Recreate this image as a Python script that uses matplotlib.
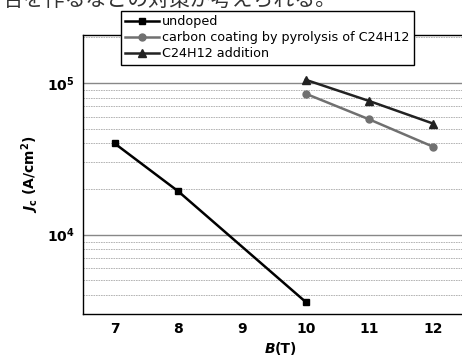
import matplotlib.pyplot as plt
from matplotlib.ticker import LogLocator, NullFormatter, FuncFormatter
import math

B_UNDOPED = [7, 8, 10]
JC_UNDOPED = [4.0e4, 1.93e4, 3.6e3]

B_COATED = [10, 11, 12]
JC_COATED = [8.5e4, 5.75e4, 3.8e4]

B_ADDED = [10, 11, 12]
JC_ADDED = [1.05e5, 7.6e4, 5.4e4]

LABELS = ["undoped", "carbon coating by pyrolysis of C24H12", "C24H12 addition"]
X_TICKS = [7, 8, 9, 10, 11, 12]


def _bold_pow(v, _pos):
    return r"$\mathbf{10^{%d}}$" % round(math.log10(v))


fig = plt.figure(figsize=(4.62, 3.58), dpi=100)
ax = fig.add_axes([0.179, 0.123, 0.8275, 0.779])

ax.plot(B_UNDOPED, JC_UNDOPED, color="black", marker="s", markersize=5,
        linewidth=1.8, label=LABELS[0])
ax.plot(B_COATED, JC_COATED, color="#707070", marker="o", markersize=5,
        linewidth=1.8, label=LABELS[1])
ax.plot(B_ADDED, JC_ADDED, color="#222222", marker="^", markersize=6,
        linewidth=1.8, label=LABELS[2])

ax.set_yscale("log")
ax.set_xlim(6.5, 12.5)
ax.set_ylim(3e3, 2.07e5)
ax.set_xticks(X_TICKS)
ax.set_xticklabels([str(t) for t in X_TICKS], fontweight="bold", fontsize=10)
ax.yaxis.set_major_formatter(FuncFormatter(_bold_pow))
ax.yaxis.set_minor_locator(LogLocator(base=10, subs=range(2, 10)))
ax.yaxis.set_minor_formatter(NullFormatter())
ax.tick_params(axis="both", which="both", length=0, pad=6)
ax.tick_params(axis="y", labelsize=10)

ax.grid(True, which="major", axis="y", color="#888888", linewidth=1.0)
ax.grid(True, which="minor", axis="y", color="#aaaaaa", linewidth=0.6,
        linestyle=(0, (2, 1)))
ax.set_axisbelow(True)
for s in ax.spines.values():
    s.set_linewidth(1.0)

ax.set_ylabel(r"$\mathbfit{J}_{\mathbf{c}}$ (A/cm$^\mathbf{2}$)", fontsize=10,
              fontweight="bold", labelpad=4)
# x label: italic B followed by upright (T)
fig.text(0.595, 0.005, "(T)", fontsize=10, fontweight="bold", ha="left", va="bottom")
fig.text(0.595, 0.005, "B", fontsize=10, fontweight="bold", style="italic",
         ha="right", va="bottom")

leg = ax.legend(loc="upper left", bbox_to_anchor=(121 / 462, 1 - 11 / 358),
                bbox_transform=fig.transFigure, fontsize=9.2, frameon=True,
                fancybox=False, edgecolor="black", framealpha=1,
                handlelength=2.6, handletextpad=0.25, borderpad=0.35,
                labelspacing=0.22, borderaxespad=0)
leg.get_frame().set_linewidth(1.0)

# partial line of body text above the chart, cut by the top edge
fig.text(0.005, 1 + 11 / 358, "合を作るなどの対策が考えられる。",
         family=["Noto Sans CJK JP", "DejaVu Sans"], fontsize=15,
         color="#333333", ha="left", va="top")

fig.savefig("out.png", dpi=100)
